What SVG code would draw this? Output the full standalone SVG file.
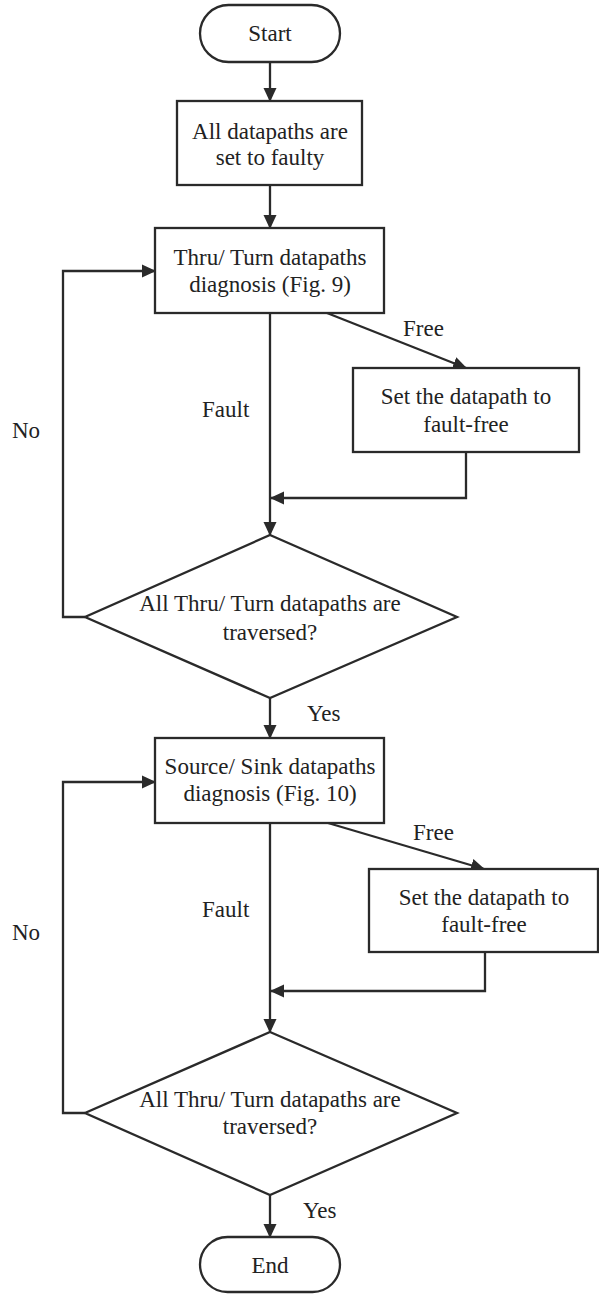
<svg xmlns="http://www.w3.org/2000/svg" width="599" height="1294" viewBox="0 0 599 1294" font-family="'Liberation Serif', 'Times New Roman', Times, 'DejaVu Serif', serif">
<style>
.shape{fill:#fff;stroke:#2a2a2a;stroke-width:2.3}
.line{fill:none;stroke:#2a2a2a;stroke-width:2.3}
.t{font-family:'Liberation Serif', 'Times New Roman', Times, 'DejaVu Serif', serif;font-size:23px;fill:#222}
.c{text-anchor:middle}
</style>
<defs>
<marker id="arr" markerUnits="userSpaceOnUse" markerWidth="14" markerHeight="14" viewBox="0 0 14 14" refX="13" refY="7" orient="auto">
<path d="M0,0.5 L14,7 L0,13.5 z" fill="#2a2a2a"/>
</marker>
</defs>
<rect width="599" height="1294" fill="#fff"/>
<g id="connectors">
<path class="line" d="M270,62 V101" marker-end="url(#arr)"/>
<path class="line" d="M270,185 V228" marker-end="url(#arr)"/>
<path class="line" d="M270,313 V535" marker-end="url(#arr)"/>
<path class="line" d="M327,313 L466,368" marker-end="url(#arr)"/>
<path class="line" d="M466,452 V498 H271" marker-end="url(#arr)"/>
<path class="line" d="M85,617 H63 V271 H155" marker-end="url(#arr)"/>
<path class="line" d="M270,698 V738" marker-end="url(#arr)"/>
<path class="line" d="M270,823 V1032" marker-end="url(#arr)"/>
<path class="line" d="M328,823 L484,869" marker-end="url(#arr)"/>
<path class="line" d="M485,952 V991 H271" marker-end="url(#arr)"/>
<path class="line" d="M85,1113 H63 V782 H155" marker-end="url(#arr)"/>
<path class="line" d="M270,1195 V1237" marker-end="url(#arr)"/>
<text class="t" x="202" y="417">Fault</text>
<text class="t" x="403" y="336">Free</text>
<text class="t" x="12" y="438">No</text>
<text class="t" x="307" y="721">Yes</text>
<text class="t" x="202" y="917">Fault</text>
<text class="t" x="413" y="840">Free</text>
<text class="t" x="12" y="940">No</text>
<text class="t" x="303" y="1218">Yes</text>
</g>
<g id="start">
<rect class="shape" x="200" y="5" width="140" height="57" rx="28.5"/>
<text class="t c" x="270" y="41">Start</text>
</g>
<g id="init">
<rect class="shape" x="177" y="101" width="185" height="84"/>
<text class="t c" x="270" y="139">All datapaths are</text>
<text class="t c" x="270" y="165">set to faulty</text>
</g>
<g id="thru">
<rect class="shape" x="155" y="228" width="229" height="85"/>
<text class="t c" x="270" y="265">Thru/ Turn datapaths</text>
<text class="t c" x="270" y="292">diagnosis (Fig. 9)</text>
</g>
<g id="set1">
<rect class="shape" x="353" y="368" width="226" height="84"/>
<text class="t c" x="466" y="404">Set the datapath to</text>
<text class="t c" x="466" y="432">fault-free</text>
</g>
<g id="dec1">
<polygon class="shape" points="270,535 457,617 270,698 85,617"/>
<text class="t c" x="270" y="611">All Thru/ Turn datapaths are</text>
<text class="t c" x="270" y="640">traversed?</text>
</g>
<g id="source">
<rect class="shape" x="155" y="738" width="229" height="85"/>
<text class="t c" x="270" y="774">Source/ Sink datapaths</text>
<text class="t c" x="270" y="801">diagnosis (Fig. 10)</text>
</g>
<g id="set2">
<rect class="shape" x="369" y="869" width="229" height="83"/>
<text class="t c" x="484" y="905">Set the datapath to</text>
<text class="t c" x="484" y="932">fault-free</text>
</g>
<g id="dec2">
<polygon class="shape" points="270,1032 457,1113 270,1195 85,1113"/>
<text class="t c" x="270" y="1107">All Thru/ Turn datapaths are</text>
<text class="t c" x="270" y="1134">traversed?</text>
</g>
<g id="end">
<rect class="shape" x="200" y="1237" width="140" height="55" rx="27.5"/>
<text class="t c" x="270" y="1273">End</text>
</g>
</svg>
